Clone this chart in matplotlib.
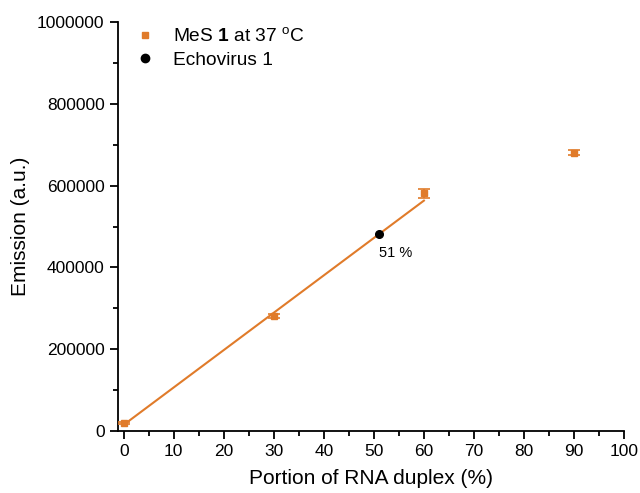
import numpy as np
import matplotlib
matplotlib.use('Agg')
import matplotlib.pyplot as plt
from matplotlib.ticker import MultipleLocator, StrMethodFormatter
from matplotlib.lines import Line2D

plt.rcParams['font.family'] = ['Liberation Sans', 'DejaVu Sans']
plt.rcParams['mathtext.fontset'] = 'custom'
plt.rcParams['mathtext.rm'] = 'Liberation Sans'
plt.rcParams['mathtext.bf'] = 'Liberation Sans:bold'

# MeS 1 emission vs. duplex fraction
duplex_pct = [0, 30, 60, 90]
emission = [19000, 281000, 581000, 681000]
emission_err = [3000, 6000, 10000, 7000]

# linear calibration over the 0-60 % range
fit_x = [0, 60]
fit_intercept = 15000
fit_slope = 9140

# Echovirus 1 sample
echo_pct = [51]
echo_emission = [481000]

orange = '#E07B2A'

fig = plt.figure(figsize=(6.4, 4.93), dpi=100)
ax = fig.add_axes([0.184, 0.126, 0.791, 0.829])

fx = np.array(fit_x)
ax.plot(fx, fit_intercept + fit_slope * fx, color=orange, lw=1.5, zorder=2)
ax.errorbar(duplex_pct, emission, yerr=emission_err, fmt='s', color=orange,
            ms=4, capsize=4, elinewidth=1.2, capthick=1.2, zorder=3)
ax.plot(echo_pct, echo_emission, 'o', color='black', ms=5.5, zorder=4)
ax.annotate('51 %', (echo_pct[0], echo_emission[0]), xytext=(0, -16),
            textcoords='offset points', fontsize=10.5)

ax.set_xlim(-1.2, 100)
ax.set_ylim(0, 1000000)
ax.xaxis.set_major_locator(MultipleLocator(10))
ax.xaxis.set_minor_locator(MultipleLocator(5))
ax.yaxis.set_major_locator(MultipleLocator(200000))
ax.yaxis.set_minor_locator(MultipleLocator(100000))
ax.yaxis.set_major_formatter(StrMethodFormatter('{x:.0f}'))
ax.tick_params(which='major', direction='out', length=6, width=1.3, labelsize=12.5)
ax.tick_params(which='minor', direction='out', length=3.5, width=1.3)
ax.spines['top'].set_visible(False)
ax.spines['right'].set_visible(False)
ax.spines['left'].set_linewidth(1.3)
ax.spines['bottom'].set_linewidth(1.3)

ax.set_xlabel('Portion of RNA duplex (%)', fontsize=15, labelpad=7)
ax.set_ylabel('Emission (a.u.)', fontsize=15, labelpad=5)

handles = [
    Line2D([], [], ls='none', marker='s', ms=4, color=orange),
    Line2D([], [], ls='none', marker='o', ms=6, color='black'),
]
labels = [r'MeS $\mathbf{1}$ at 37 $^{\mathrm{o}}$C', 'Echovirus 1']
ax.legend(handles, labels, loc='upper left', frameon=False, fontsize=13.8,
          bbox_to_anchor=(0.0, 1.03), handlelength=1.0, handletextpad=1.0,
          labelspacing=0.3)

fig.savefig('out.png', dpi=100)
